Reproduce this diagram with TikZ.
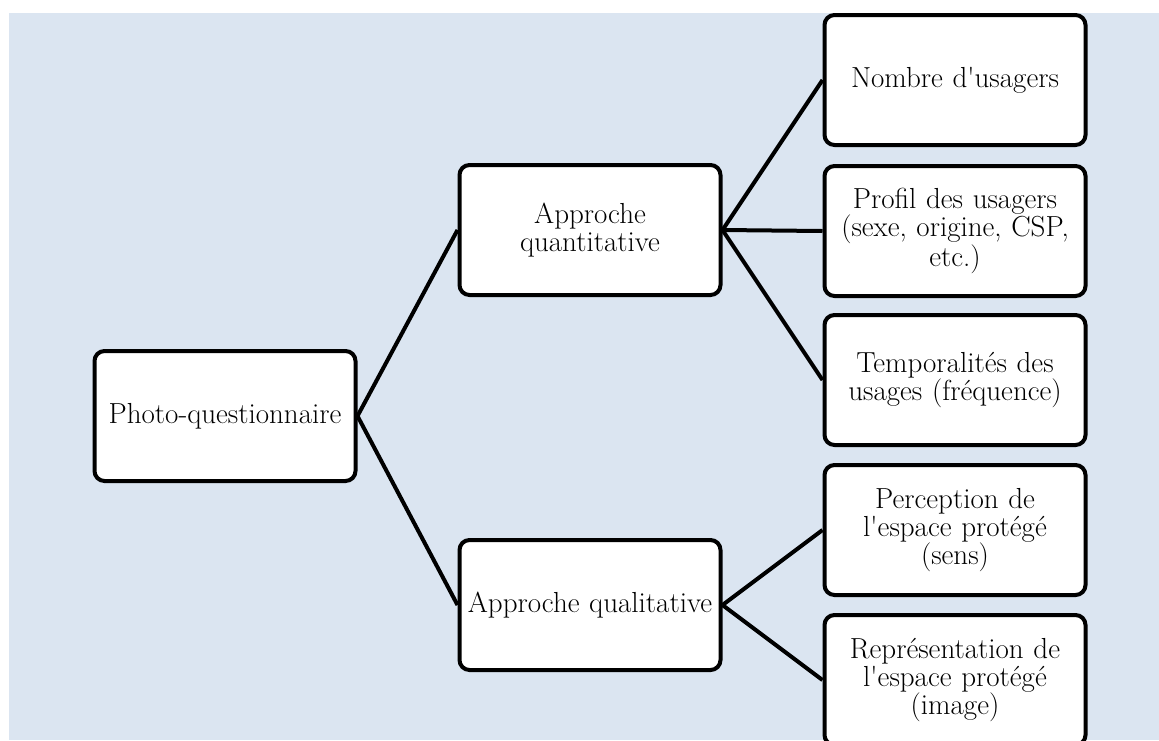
\documentclass[tikz,border=0pt]{standalone}
\usepackage{fontspec}
\definecolor{bgblue}{RGB}{219,229,241}
\tikzset{
  box/.style={draw=black, line width=4pt, rounded corners=10pt, fill=white,
    minimum width=261pt, minimum height=130pt, inner sep=0pt,
    align=center, text width=255pt,
    font=\fontsize{29}{27.8}\selectfont},
  conn/.style={draw=black, line width=4pt}
}
\begin{document}
\begin{tikzpicture}[x=1pt,y=-1pt]
\useasboundingbox (0,0) rectangle (1159,740);
\clip (0,0) rectangle (1159,740);
\fill[bgblue] (9,13) rectangle (1159,740);
\node[box] (root) at (225,416) {Photo-questionnaire};
\node[box] (quant) at (590,230) {Approche\\quantitative};
\node[box] (qual) at (590,605) {Approche qualitative};
\node[box] (n1) at (955,80) {Nombre d\textquotesingle usagers};
\node[box] (n2) at (955,231) {Profil des usagers\\(sexe, origine, CSP,\\etc.)};
\node[box] (n3) at (955,380) {Temporalités des\\usages (fréquence)};
\node[box] (n4) at (955,530) {Perception de\\l\textquotesingle espace protégé\\(sens)};
\node[box] (n5) at (955,680) {Représentation de\\l\textquotesingle espace protégé\\(image)};
\draw[conn] (root.east) -- (quant.west);
\draw[conn] (root.east) -- (qual.west);
\draw[conn] (quant.east) -- (n1.west);
\draw[conn] (quant.east) -- (n2.west);
\draw[conn] (quant.east) -- (n3.west);
\draw[conn] (qual.east) -- (n4.west);
\draw[conn] (qual.east) -- (n5.west);
\end{tikzpicture}
\end{document}
